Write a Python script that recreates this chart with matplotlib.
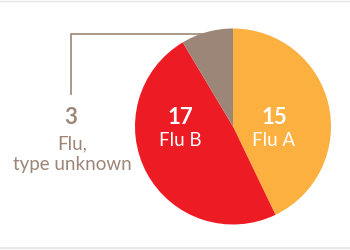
import numpy as np
import matplotlib.pyplot as plt

# flu cases by type
labels = ["Flu A", "Flu B", "Flu,\ntype unknown"]
counts = [15, 17, 3]
colors = ["#FBB040", "#ED1C24", "#9C8677"]

taupe = "#9C8677"
plt.rcParams['font.family'] = ['Lato', 'DejaVu Sans']

fig = plt.figure(figsize=(3.5, 2.5), dpi=100)
ax = fig.add_axes([0, 0, 1, 1])

cx, cy, r = 233, 123.5, 98
wedges, _ = ax.pie(counts, colors=colors, startangle=90, counterclock=False,
                   center=(cx, cy), radius=r, frame=True,
                   wedgeprops=dict(linewidth=0))
ax.set_xlim(0, 350)
ax.set_ylim(0, 250)
ax.set_aspect('equal')
ax.axis('off')

# leader line for the small slice (hidden behind the pie at its end)
ax.plot([71, 71, cx - 20], [155, 216, 216], color=taupe, lw=1.2, zorder=0,
        solid_capstyle='butt', solid_joinstyle='miter')

# labels inside the slices
ax.text(274, 132, str(counts[0]), color="white", fontsize=16, fontweight='bold',
        ha='center', va='center')
ax.text(274, 109, labels[0], color="white", fontsize=13.5, ha='center', va='center')
ax.text(180, 132, str(counts[1]), color="white", fontsize=16, fontweight='bold',
        ha='center', va='center')
ax.text(180, 109, labels[1], color="white", fontsize=13.5, ha='center', va='center')

# outside label for unknown type
ax.text(71, 132, str(counts[2]), color=taupe, fontsize=16, fontweight='bold',
        ha='center', va='center')
ax.text(72, 96, labels[2], color=taupe, fontsize=13.5, ha='center', va='center',
        linespacing=1.3)

# thin frame lines at top and bottom
ax.axhline(249.5, color="#E6E6E6", lw=1)
ax.axhline(2, color="#E6E6E6", lw=1.5)

fig.savefig("out.png", dpi=100)
